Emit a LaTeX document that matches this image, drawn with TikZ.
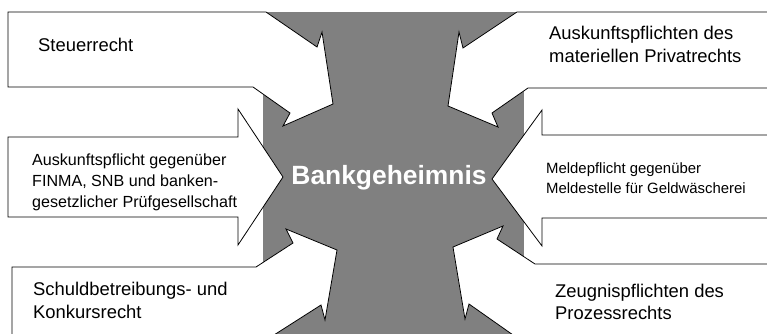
\documentclass[tikz,border=0pt]{standalone}
\usepackage{fontspec}
\setmainfont{Liberation Sans}
\definecolor{secretgray}{RGB}{128,128,128}
\tikzset{
  duty/.style={draw=black,fill=white,line width=0.8pt,line join=miter},
  dutylabel/.style={align=left,anchor=base west,inner sep=0pt},
  bigtext/.style={font=\fontsize{18.4}{23}\selectfont},
}
\begin{document}
\begin{tikzpicture}[x=1pt,y=-1pt]
  \useasboundingbox (0,0) rectangle (767,333);
  \clip (0,0) rectangle (767,333);
  \fill[secretgray] (263,12) rectangle (524,345);

  % left column
  \draw[duty] (8,12) -- (266,12) -- (317,47) -- (322,32) -- (333,104)
    -- (283,126) -- (290,113) -- (253,87) -- (8,87) -- cycle;
  \draw[duty] (8,137) -- (238,137) -- (238,109) -- (283,177)
    -- (238,245) -- (238,217) -- (8,217) -- cycle;
  \draw[duty] (12,267) -- (256,267) -- (293,243) -- (286,229) -- (337,250)
    -- (325,320) -- (321,305) -- (263,342) -- (12,342) -- cycle;

  % right column
  \draw[duty] (780,12) -- (517,12) -- (463,48) -- (459,32) -- (448,106)
    -- (498,127) -- (492,113) -- (528,88) -- (780,88) -- cycle;
  \draw[duty] (780,135) -- (542,135) -- (542,110) -- (492,179)
    -- (542,246) -- (542,218) -- (780,218) -- cycle;
  \draw[duty] (780,264) -- (535,264) -- (497,239) -- (503,226) -- (453,247)
    -- (465,319) -- (469,304) -- (523,342) -- (780,342) -- cycle;

  \node[font=\fontsize{26.4}{30}\selectfont\bfseries,text=white,anchor=base,inner sep=0pt]
    (secret) at (389,184) {Bankgeheimnis};

  % base anchor sits on the last line
  \node[dutylabel,bigtext] (tax) at (38,51) {Steuerrecht};
  \node[dutylabel,font=\fontsize{16.1}{21}\selectfont] (finma) at (32,207)
    {Auskunftspflicht gegenüber\\FINMA, SNB und banken-\\gesetzlicher Prüfgesellschaft};
  \node[dutylabel,bigtext] (debt) at (33,318)
    {Schuldbetreibungs- und\\Konkursrecht};

  \node[dutylabel,bigtext] (private) at (549,62)
    {Auskunftspflichten des\\materiellen Privatrechts};
  \node[dutylabel,font=\fontsize{14.9}{19.5}\selectfont] (money) at (546,193)
    {Meldepflicht gegenüber\\Meldestelle für Geldwäscherei};
  \node[dutylabel,bigtext,font=\fontsize{18.4}{22}\selectfont] (witness) at (555,319)
    {Zeugnispflichten des\\Prozessrechts};
\end{tikzpicture}
\end{document}
